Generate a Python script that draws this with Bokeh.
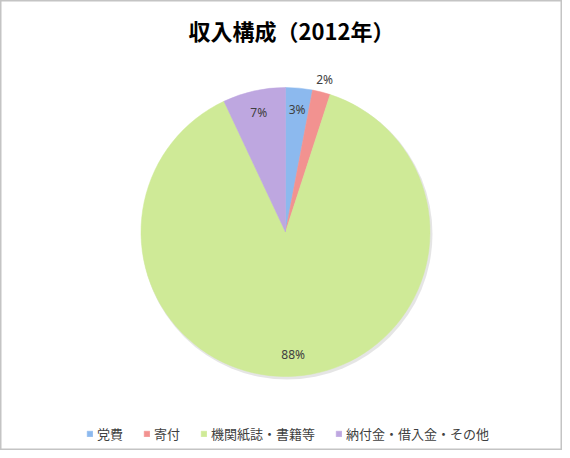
import numpy as np
from bokeh.plotting import figure, ColumnDataSource
from bokeh.models import Range1d, Label
from bokeh.core.properties import value
from bokeh.embed import file_html
from bokeh.resources import INLINE

# ---- data ----
title_text = "収入構成（2012年）"
categories = ["党費", "寄付", "機関紙誌・書籍等", "納付金・借入金・その他"]
shares = [3, 2, 88, 7]           # percent
colors = ["#8cb9ee", "#f29290", "#cfea97", "#bea7e0"]
label_outside = [False, True, False, False]

W, H = 562, 450
CX, CY = 285, 231.5   # pie centre in figure pixels (from left / from top)
R = 144.5

p = figure(width=W, height=H, output_backend="svg", toolbar_location=None,
           x_range=Range1d(-CX, W - CX), y_range=Range1d(CY - H, CY),
           x_axis_location=None, y_axis_location=None, min_border=0,
           background_fill_color="white", border_fill_color="white")
p.grid.visible = False
p.outline_line_color = "#c4c4c4"
p.outline_line_width = 2

vals = np.array(shares, dtype=float)
frac = vals / vals.sum()
cum_after = np.cumsum(frac)
cum_before = cum_after - frac
start = np.pi / 2 - 2 * np.pi * cum_before
end = np.pi / 2 - 2 * np.pi * cum_after
mid = (start + end) / 2

src = ColumnDataSource(dict(cat=categories, start=start, end=end, color=colors))

# soft shadow
p.circle(x=[1.5], y=[-2], radius=R + 1, fill_color="#000000", fill_alpha=0.10,
         line_color=None)
p.wedge(x=0, y=0, radius=R, start_angle="start", end_angle="end",
        direction="clock", fill_color="color", line_color="color",
        line_width=0.5, source=src, legend_field="cat")

# percentage labels
lr = np.where(np.array(label_outside), R * 1.09, R * 0.85)
lsrc = ColumnDataSource(dict(x=lr * np.cos(mid), y=lr * np.sin(mid),
                             t=[f"{int(v)}%" for v in shares]))
p.text(x="x", y="y", text="t", source=lsrc, text_align="center",
       text_baseline="middle", text_font=value("Noto Sans"),
       text_font_size="12px", text_color="#404040")

p.add_layout(Label(x=W / 2 + 10, y=H - 29, x_units="screen", y_units="screen",
                   text=title_text, text_align="center", text_baseline="middle",
                   text_font="Noto Sans CJK JP", text_font_size="22px",
                   text_font_style="bold", text_color="#000000"))

leg = p.legend[0]
leg.orientation = "horizontal"
leg.location = (86, 7)
leg.label_text_font = "Noto Sans CJK JP"
leg.label_text_font_size = "13px"
leg.label_text_color = "#404040"
leg.glyph_width = 7
leg.glyph_height = 7
leg.label_standoff = 4
leg.spacing = 20
leg.padding = 0
leg.margin = 0
leg.border_line_color = None
leg.background_fill_alpha = 0

open("out.html", "w").write(file_html(p, INLINE))
